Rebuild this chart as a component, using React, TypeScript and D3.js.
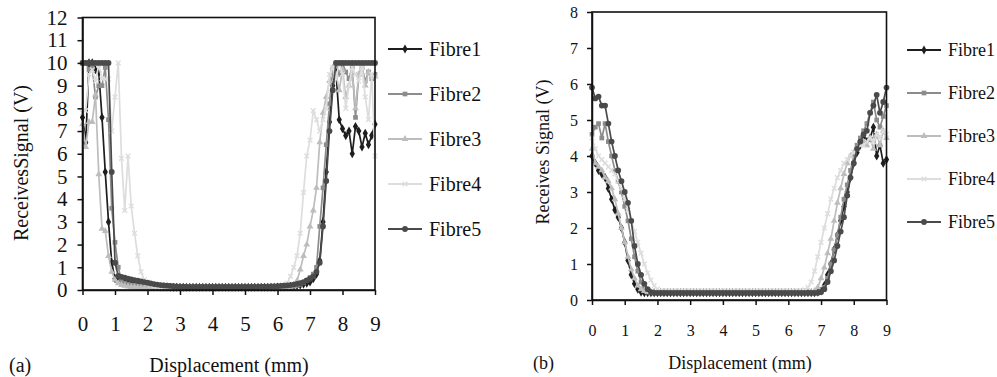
import React, { useRef, useEffect } from 'react';
import * as d3 from 'd3';

// displacement (mm), one reading every 0.1 mm
const displacement = [
  0, 0.1, 0.2, 0.3, 0.4, 0.5, 0.6, 0.7, 0.8, 0.9,
  1, 1.1, 1.2, 1.3, 1.4, 1.5, 1.6, 1.7, 1.8, 1.9,
  2, 2.1, 2.2, 2.3, 2.4, 2.5, 2.6, 2.7, 2.8, 2.9,
  3, 3.1, 3.2, 3.3, 3.4, 3.5, 3.6, 3.7, 3.8, 3.9,
  4, 4.1, 4.2, 4.3, 4.4, 4.5, 4.6, 4.7, 4.8, 4.9,
  5, 5.1, 5.2, 5.3, 5.4, 5.5, 5.6, 5.7, 5.8, 5.9,
  6, 6.1, 6.2, 6.3, 6.4, 6.5, 6.6, 6.7, 6.8, 6.9,
  7, 7.1, 7.2, 7.3, 7.4, 7.5, 7.6, 7.7, 7.8, 7.9,
  8, 8.1, 8.2, 8.3, 8.4, 8.5, 8.6, 8.7, 8.8, 8.9,
  9,
];

const fibreNames = ['Fibre1', 'Fibre2', 'Fibre3', 'Fibre4', 'Fibre5'];
const fibreColors = ['#1e1e1e', '#8c8c8c', '#bdbdbd', '#dddddd', '#4a4a4a'];

const xTicks = [0, 1, 2, 3, 4, 5, 6, 7, 8, 9];
const yTicksA = [0, 1, 2, 3, 4, 5, 6, 7, 8, 9, 10, 11, 12];
const yTicksB = [0, 1, 2, 3, 4, 5, 6, 7, 8];

// panel (a)
const a1 = [
  7.6, 6.5, 10, 10, 9.7, 9.6, 7.6, 5.2, 3.0, 1.2,
  0.5, 0.45, 0.4, 0.36, 0.32, 0.3, 0.27, 0.25, 0.22, 0.2,
  0.18, 0.17, 0.16, 0.15, 0.14, 0.13, 0.13, 0.12, 0.12, 0.12,
  0.12, 0.12, 0.12, 0.12, 0.12, 0.12, 0.12, 0.12, 0.12, 0.12,
  0.12, 0.12, 0.12, 0.12, 0.12, 0.12, 0.12, 0.12, 0.12, 0.12,
  0.12, 0.12, 0.12, 0.12, 0.12, 0.12, 0.12, 0.12, 0.12, 0.12,
  0.13, 0.13, 0.14, 0.15, 0.16, 0.18, 0.2, 0.22, 0.26, 0.3,
  0.35, 0.5, 0.7, 1.3, 3.0, 5.2, 7.4, 9.0, 9.6, 7.5,
  7.1, 6.8, 7.0, 6.0, 7.2, 7.0, 6.3, 6.9, 6.4, 6.8,
  7.3,
];
const a2 = [
  10, 10, 9.7, 9.8, 8.5, 9.0, 9.0, 9.8, 7.5, 3.6,
  2.1, 1.0, 0.4, 0.3, 0.25, 0.22, 0.2, 0.18, 0.16, 0.15,
  0.14, 0.13, 0.12, 0.12, 0.11, 0.11, 0.11, 0.11, 0.11, 0.11,
  0.11, 0.11, 0.11, 0.11, 0.11, 0.11, 0.11, 0.11, 0.11, 0.11,
  0.11, 0.11, 0.11, 0.11, 0.11, 0.11, 0.11, 0.11, 0.11, 0.11,
  0.11, 0.11, 0.11, 0.11, 0.11, 0.11, 0.11, 0.11, 0.11, 0.11,
  0.12, 0.12, 0.13, 0.14, 0.15, 0.17, 0.2, 0.25, 0.32, 0.42,
  0.55, 0.7, 1.0, 2.8, 4.5, 6.4, 8.2, 9.7, 10, 9.5,
  10, 9.6, 9.3, 9.8, 7.6, 9.5, 9.8, 9.2, 9.6, 9.3,
  9.5,
];
const a3 = [
  7.3, 6.3, 7.4, 7.4, 8.6, 5.1, 2.7, 2.6, 1.5, 0.8,
  0.45, 0.3, 0.22, 0.18, 0.15, 0.13, 0.12, 0.11, 0.1, 0.1,
  0.1, 0.1, 0.1, 0.1, 0.1, 0.1, 0.1, 0.1, 0.1, 0.1,
  0.1, 0.1, 0.1, 0.1, 0.1, 0.1, 0.1, 0.1, 0.1, 0.1,
  0.1, 0.1, 0.1, 0.1, 0.1, 0.1, 0.1, 0.1, 0.1, 0.1,
  0.1, 0.1, 0.1, 0.1, 0.1, 0.1, 0.1, 0.1, 0.1, 0.1,
  0.1, 0.11, 0.12, 0.13, 0.15, 0.2, 0.4, 0.9, 1.5, 2.0,
  2.8, 3.5, 4.5, 6.5, 7.8, 8.5, 9.2, 9.8, 9.5, 8.8,
  9.7, 8.5, 9.0, 9.6, 8.0, 9.5, 9.8, 9.0, 9.6, 9.4,
  9.4,
];
const a4 = [
  7.8, 7.9, 9.5, 9.7, 9.2, 9.9, 9.3, 9.3, 9.3, 7.0,
  8.5, 10, 5.8, 3.5, 5.9, 3.7, 2.5, 1.5, 0.8, 0.45,
  0.3, 0.22, 0.18, 0.15, 0.13, 0.12, 0.11, 0.11, 0.1, 0.1,
  0.1, 0.1, 0.1, 0.1, 0.1, 0.1, 0.1, 0.1, 0.1, 0.1,
  0.1, 0.1, 0.1, 0.1, 0.1, 0.1, 0.1, 0.1, 0.1, 0.1,
  0.1, 0.1, 0.1, 0.1, 0.1, 0.1, 0.1, 0.1, 0.1, 0.1,
  0.12, 0.15, 0.2, 0.3, 0.6, 1.0, 1.5, 2.5, 4.3, 5.9,
  6.6, 7.9, 7.5, 7.0, 7.5, 8.0, 9.5, 9.8, 9.3, 10,
  9.5, 8.0, 9.0, 9.8, 9.5, 9.2, 9.8, 8.5, 7.5, 9.5,
  5.9,
];
const a5 = [
  10, 10, 10, 10, 10, 10, 10, 10, 10, 5.2,
  1.2, 0.62, 0.58, 0.54, 0.5, 0.47, 0.44, 0.41, 0.38, 0.35,
  0.32, 0.29, 0.26, 0.24, 0.22, 0.2, 0.19, 0.18, 0.17, 0.16,
  0.15, 0.15, 0.14, 0.14, 0.14, 0.14, 0.14, 0.14, 0.14, 0.14,
  0.14, 0.14, 0.14, 0.14, 0.14, 0.14, 0.14, 0.14, 0.14, 0.14,
  0.14, 0.14, 0.14, 0.14, 0.14, 0.15, 0.15, 0.15, 0.16, 0.16,
  0.17, 0.18, 0.19, 0.2, 0.22, 0.24, 0.27, 0.3, 0.35, 0.42,
  0.5, 0.6, 0.8, 1.2, 2.8, 4.8, 7.0, 8.8, 10, 10,
  10, 10, 10, 10, 10, 10, 10, 10, 10, 10,
  10,
];

// panel (b)
const b1 = [
  4.0, 3.8, 3.6, 3.5, 3.4, 3.1, 2.8, 2.5, 2.3, 2.0,
  1.6, 1.1, 0.7, 0.45, 0.3, 0.22, 0.2, 0.2, 0.2, 0.2,
  0.2, 0.2, 0.2, 0.2, 0.2, 0.2, 0.2, 0.2, 0.2, 0.2,
  0.2, 0.2, 0.2, 0.2, 0.2, 0.2, 0.2, 0.2, 0.2, 0.2,
  0.2, 0.2, 0.2, 0.2, 0.2, 0.2, 0.2, 0.2, 0.2, 0.2,
  0.2, 0.2, 0.2, 0.2, 0.2, 0.2, 0.2, 0.2, 0.2, 0.2,
  0.2, 0.2, 0.2, 0.2, 0.2, 0.2, 0.2, 0.2, 0.2, 0.22,
  0.25, 0.4, 0.7, 1.0, 1.4, 1.8, 2.2, 2.6, 3.0, 3.4,
  3.8, 4.1, 4.3, 4.5, 4.4, 4.5, 4.8, 4.0, 4.3, 3.8,
  3.9,
];
const b2 = [
  4.6, 4.8, 4.9, 4.5, 4.9, 4.4, 4.0, 3.6, 3.3, 3.0,
  2.6, 2.2, 1.7, 1.2, 0.8, 0.5, 0.3, 0.22, 0.2, 0.2,
  0.2, 0.2, 0.2, 0.2, 0.2, 0.2, 0.2, 0.2, 0.2, 0.2,
  0.2, 0.2, 0.2, 0.2, 0.2, 0.2, 0.2, 0.2, 0.2, 0.2,
  0.2, 0.2, 0.2, 0.2, 0.2, 0.2, 0.2, 0.2, 0.2, 0.2,
  0.2, 0.2, 0.2, 0.2, 0.2, 0.2, 0.2, 0.2, 0.2, 0.2,
  0.2, 0.2, 0.2, 0.2, 0.2, 0.2, 0.2, 0.2, 0.2, 0.2,
  0.22, 0.35, 0.6, 1.0, 1.4, 1.8, 2.3, 2.8, 3.2, 3.6,
  4.0, 4.3, 4.5, 4.7, 4.9, 5.2, 5.5, 5.0, 4.8, 5.1,
  5.4,
];
const b3 = [
  4.2, 3.8, 3.7, 3.6, 3.4, 3.3, 3.1, 2.8, 2.4, 2.0,
  1.6, 1.2, 0.85, 0.6, 0.4, 0.3, 0.25, 0.22, 0.22, 0.22,
  0.22, 0.22, 0.22, 0.22, 0.22, 0.22, 0.22, 0.22, 0.22, 0.22,
  0.22, 0.22, 0.22, 0.22, 0.22, 0.22, 0.22, 0.22, 0.22, 0.22,
  0.22, 0.22, 0.22, 0.22, 0.22, 0.22, 0.22, 0.22, 0.22, 0.22,
  0.22, 0.22, 0.22, 0.22, 0.22, 0.22, 0.22, 0.22, 0.22, 0.22,
  0.22, 0.22, 0.22, 0.22, 0.22, 0.22, 0.22, 0.22, 0.25, 0.35,
  0.6, 0.9, 1.3, 1.7, 2.2, 2.7, 3.1, 3.5, 3.8, 4.0,
  4.1, 4.2, 4.3, 4.4, 4.3, 4.5, 4.2, 4.6, 4.3, 4.7,
  4.5,
];
const b4 = [
  4.5, 4.2, 4.0, 3.9, 3.8, 3.7, 3.6, 3.5, 3.3, 3.1,
  2.8, 2.5, 2.2, 1.9, 1.6, 1.3, 1.0, 0.75, 0.55, 0.4,
  0.3, 0.25, 0.25, 0.25, 0.25, 0.25, 0.25, 0.25, 0.25, 0.25,
  0.25, 0.25, 0.25, 0.25, 0.25, 0.25, 0.25, 0.25, 0.25, 0.25,
  0.25, 0.25, 0.25, 0.25, 0.25, 0.25, 0.25, 0.25, 0.25, 0.25,
  0.25, 0.25, 0.25, 0.25, 0.25, 0.25, 0.25, 0.25, 0.25, 0.25,
  0.25, 0.25, 0.25, 0.25, 0.25, 0.28, 0.35, 0.5, 0.8, 1.2,
  1.6, 2.0, 2.4, 2.8, 3.1, 3.4, 3.6, 3.8, 3.9, 4.0,
  4.1, 4.2, 4.3, 4.3, 4.4, 4.5, 4.4, 4.6, 4.5, 4.7,
  4.6,
];
const b5 = [
  5.9, 5.6, 5.65, 5.4, 5.4, 4.9, 4.4, 4.0, 3.6, 3.3,
  3.0, 2.7, 2.2, 1.5, 1.0, 0.7, 0.45, 0.3, 0.22, 0.2,
  0.2, 0.2, 0.2, 0.2, 0.2, 0.2, 0.2, 0.2, 0.2, 0.2,
  0.2, 0.2, 0.2, 0.2, 0.2, 0.2, 0.2, 0.2, 0.2, 0.2,
  0.2, 0.2, 0.2, 0.2, 0.2, 0.2, 0.2, 0.2, 0.2, 0.2,
  0.2, 0.2, 0.2, 0.2, 0.2, 0.2, 0.2, 0.2, 0.2, 0.2,
  0.2, 0.2, 0.2, 0.2, 0.2, 0.2, 0.2, 0.2, 0.2, 0.2,
  0.22, 0.3, 0.5, 0.8, 1.1, 1.5, 1.9, 2.3, 2.9, 3.4,
  3.8, 4.2, 4.4, 4.6, 4.7, 5.2, 5.4, 5.7, 5.2, 5.5,
  5.9,
];

const FONT = "'Liberation Serif', 'DejaVu Serif', 'Noto Serif', serif";

// marker shapes for Fibre1..Fibre5
const markerTypes = [d3.symbolDiamond, d3.symbolSquare, d3.symbolTriangle, d3.symbolTimes, d3.symbolCircle];
const markerSizes = [24, 22, 20, 16, 26];

function marker(g, i, cx, cy) {
  const stroked = i === 3;
  g.append('path')
    .attr('d', d3.symbol().type(markerTypes[i]).size(markerSizes[i])())
    .attr('transform', `translate(${cx},${cy})`)
    .attr('fill', stroked ? 'none' : fibreColors[i])
    .attr('stroke', stroked ? fibreColors[i] : 'none')
    .attr('stroke-width', 1.4);
}

function label(g, size) {
  return g.append('text')
    .attr('font-family', FONT)
    .attr('font-size', size)
    .attr('fill', '#111');
}

function drawPanel(svg, p) {
  const x = d3.scaleLinear().domain([0, 9]).range(p.xRange);
  const y = d3.scaleLinear().domain([0, p.yMax]).range(p.yRange);
  const g = svg.append('g');

  // series
  const line = d3.line().x((d) => x(d[0])).y((d) => y(d[1]));
  p.series.forEach((vals, i) => {
    const pts = vals.map((v, k) => [displacement[k], v]);
    g.append('path')
      .attr('d', line(pts))
      .attr('fill', 'none')
      .attr('stroke', fibreColors[i])
      .attr('stroke-width', 1.7)
      .attr('stroke-linejoin', 'round');
    const mg = g.append('g');
    pts.forEach((d) => marker(mg, i, x(d[0]), y(d[1])));
  });

  // frame
  g.append('rect')
    .attr('x', p.xRange[0])
    .attr('y', p.yRange[1])
    .attr('width', p.xRange[1] - p.xRange[0])
    .attr('height', p.yRange[0] - p.yRange[1])
    .attr('fill', 'none')
    .attr('stroke', '#111')
    .attr('stroke-width', 1.6);

  // axes
  const xa = g.append('g')
    .attr('transform', `translate(0,${p.yRange[0]})`)
    .call(d3.axisBottom(x).tickValues(xTicks).tickSize(5).tickPadding(p.xPad).tickSizeOuter(0));
  const ya = g.append('g')
    .attr('transform', `translate(${p.xRange[0]},0)`)
    .call(d3.axisLeft(y).tickValues(p.yTicks).tickSize(5).tickPadding(p.yPad).tickSizeOuter(0));
  [xa, ya].forEach((a) => {
    a.attr('font-family', FONT).attr('font-size', p.tickFont);
    a.selectAll('path,line').attr('stroke', '#111').attr('stroke-width', 1.5);
    a.selectAll('text').attr('fill', '#111');
  });

  // titles
  label(g, p.titleFont)
    .attr('x', p.xTitle[0])
    .attr('y', p.xTitle[1])
    .attr('text-anchor', 'middle')
    .text('Displacement (mm)');
  label(g, p.yTitleFont)
    .attr('transform', `translate(${p.yTitle[0]},${p.yTitle[1]}) rotate(-90)`)
    .attr('text-anchor', 'middle')
    .text(p.yLabel);
  label(g, p.titleFont)
    .attr('x', p.tag[0])
    .attr('y', p.tag[1])
    .text(p.tagText);

  // legend
  fibreNames.forEach((name, i) => {
    const ly = p.legendY + i * p.legendGap;
    const lg = g.append('g');
    lg.append('line')
      .attr('x1', p.legendX)
      .attr('x2', p.legendX + 34)
      .attr('y1', ly)
      .attr('y2', ly)
      .attr('stroke', fibreColors[i])
      .attr('stroke-width', 1.8);
    marker(lg, i, p.legendX + 17, ly);
    label(lg, p.legendFont)
      .attr('x', p.legendX + 41)
      .attr('y', ly)
      .attr('dy', '0.35em')
      .text(name);
  });
}

export default function App() {
  const svgRef = useRef(null);

  useEffect(() => {
    const svg = d3.select(svgRef.current);
    svg.selectAll('*').remove();

    drawPanel(svg, {
      series: [a1, a2, a3, a4, a5],
      yMax: 12,
      yTicks: yTicksA,
      xRange: [82.5, 375],
      yRange: [290, 17.5],
      xPad: 21,
      yPad: 10,
      tickFont: 21,
      titleFont: 20,
      yTitleFont: 20,
      xTitle: [229, 372],
      yTitle: [28, 163],
      yLabel: 'ReceivesSignal (V)',
      tag: [9, 372],
      tagText: '(a)',
      legendX: 388,
      legendY: 49,
      legendGap: 45,
      legendFont: 20,
    });

    drawPanel(svg, {
      series: [b1, b2, b3, b4, b5],
      yMax: 8,
      yTicks: yTicksB,
      xRange: [592, 886.5],
      yRange: [300, 12],
      xPad: 20,
      yPad: 9,
      tickFont: 16,
      titleFont: 18,
      yTitleFont: 18,
      xTitle: [740, 369],
      yTitle: [549, 152],
      yLabel: 'Receives Signal (V)',
      tag: [533, 369],
      tagText: '(b)',
      legendX: 907,
      legendY: 50,
      legendGap: 43,
      legendFont: 18,
    });
  }, []);

  return (
    <svg
      ref={svgRef}
      width={997}
      height={377}
      style={{ position: 'absolute', left: 0, top: 0, background: '#fff' }}
    />
  );
}
